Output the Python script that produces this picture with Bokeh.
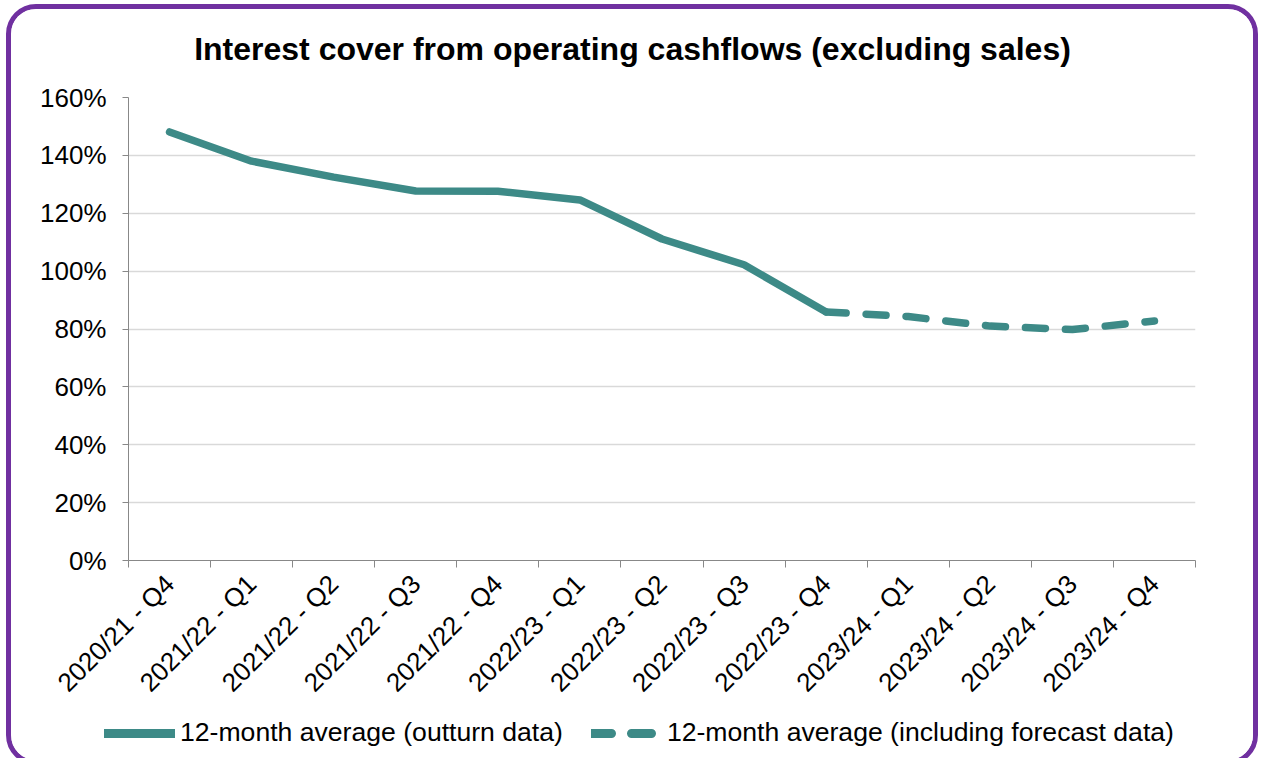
import math
from bokeh.plotting import figure
from bokeh.layouts import column
from bokeh.models import (Range1d, FixedTicker, PrintfTickFormatter, Legend, LegendItem,
                          ColumnDataSource, Label)
from bokeh.embed import file_html
from bokeh.resources import INLINE

categories = ["2020/21 - Q4", "2021/22 - Q1", "2021/22 - Q2", "2021/22 - Q3", "2021/22 - Q4",
              "2022/23 - Q1", "2022/23 - Q2", "2022/23 - Q3", "2022/23 - Q4",
              "2023/24 - Q1", "2023/24 - Q2", "2023/24 - Q3", "2023/24 - Q4"]
outturn = [148.1, 138.0, 132.5, 127.7, 127.6, 124.6, 111.1, 102.2, 85.9]
forecast_cats = categories[8:]
forecast = [85.9, 84.3, 81.0, 79.8, 82.8]
y_ticks = [0, 20, 40, 60, 80, 100, 120, 140, 160]
series_names = ["12-month average (outturn data)", "12-month average (including forecast data)"]
chart_title = "Interest cover from operating cashflows (excluding sales)"

FONT = "Liberation Sans"
TEAL = "#3D8A87"
AXIS = "#888888"
GRID = "#D9D9D9"
FS = "26px"
DASH = "20 20"
W = 1242

n = len(categories)
xpos = {c: i + 0.5 for i, c in enumerate(categories)}
src1 = ColumnDataSource(dict(x=[xpos[c] for c in categories[:len(outturn)]], y=outturn))
src2 = ColumnDataSource(dict(x=[xpos[c] for c in forecast_cats], y=forecast))


def strip(height):
    f = figure(width=W, height=height, output_backend="svg", toolbar_location=None,
               x_axis_location=None, y_axis_location=None, frame_align=False,
               x_range=Range1d(0, 1), y_range=Range1d(0, 1),
               min_border_left=0, min_border_right=0, min_border_top=0, min_border_bottom=0)
    f.outline_line_color = None
    f.xgrid.visible = False
    f.ygrid.visible = False
    f.border_fill_color = "white"
    f.background_fill_color = "white"
    return f


# title strip (page y 9..77)
tp = strip(68)
tp.add_layout(Label(x=W / 2, y=29, x_units="screen", y_units="screen", text=chart_title,
                    text_align="center", text_baseline="alphabetic", text_font=FONT,
                    text_font_size="32px", text_font_style="bold", text_color="black"))

# main chart (page y 77..716), frame at x 128..1195, y 97..560
p = figure(width=W, height=639, output_backend="svg", toolbar_location=None, frame_align=False,
           x_range=Range1d(0, n), y_range=Range1d(0, 160),
           min_border_left=117, min_border_right=58, min_border_top=20, min_border_bottom=156)
p.outline_line_color = None
p.background_fill_color = "white"
p.border_fill_color = "white"

p.line("x", "y", source=src1, line_color=TEAL, line_width=7.5, line_cap="round", line_join="round")
p.line("x", "y", source=src2, line_color=TEAL, line_width=7.5, line_cap="round",
       line_join="round", line_dash=DASH)

ya = p.yaxis[0]
ya.ticker = FixedTicker(ticks=y_ticks)
ya.formatter = PrintfTickFormatter(format="%d%%")
ya.axis_line_color = AXIS
ya.major_tick_line_color = AXIS
ya.major_tick_out = 6
ya.major_tick_in = 0
ya.minor_tick_line_color = None
ya.major_label_standoff = 16
ya.major_label_text_font = FONT
ya.major_label_text_font_size = FS
ya.major_label_text_color = "black"

xa = p.xaxis[0]
xa.ticker = FixedTicker(ticks=[i + 0.5 for i in range(n)], minor_ticks=list(range(n + 1)))
xa.major_label_overrides = {i + 0.5: c for i, c in enumerate(categories)}
xa.axis_line_color = AXIS
xa.major_tick_line_color = None
xa.major_tick_out = 0
xa.major_tick_in = 0
xa.minor_tick_line_color = AXIS
xa.minor_tick_out = 7
xa.minor_tick_in = 0
xa.major_label_orientation = math.pi / 4
xa.major_label_standoff = 12
xa.major_label_text_font = FONT
xa.major_label_text_font_size = FS
xa.major_label_text_color = "black"

p.xgrid.grid_line_color = None
p.ygrid.ticker = FixedTicker(ticks=y_ticks)
p.ygrid.grid_line_color = GRID
p.ygrid.grid_line_width = 1.5

# legend strip (page y 716..760); its lines lie outside the strip's ranges, only legend glyphs show
lp = strip(44)
l1 = lp.line("x", "y", source=src1, line_color=TEAL, line_width=9, line_cap="round")
l2 = lp.line("x", "y", source=src2, line_color=TEAL, line_width=9, line_cap="round", line_dash=DASH)
legend = Legend(items=[LegendItem(label=series_names[0], renderers=[l1]),
                       LegendItem(label=series_names[1], renderers=[l2])],
                orientation="horizontal", location=(93, 12),
                glyph_width=71, glyph_height=26, label_standoff=5, spacing=28,
                padding=0, margin=0, border_line_color=None, background_fill_alpha=0,
                label_text_font=FONT, label_text_font_size="26.6px", label_text_color="black")
lp.add_layout(legend, "center")

layout = column(tp, p, lp, spacing=0)
layout.styles = {"border": "5px solid #7030A0", "border-radius": "30px", "box-sizing": "content-box",
                 "margin-left": "6px", "margin-top": "4px", "background": "white",
                 "overflow": "hidden"}

open("out.html", "w").write(file_html(layout, INLINE))
